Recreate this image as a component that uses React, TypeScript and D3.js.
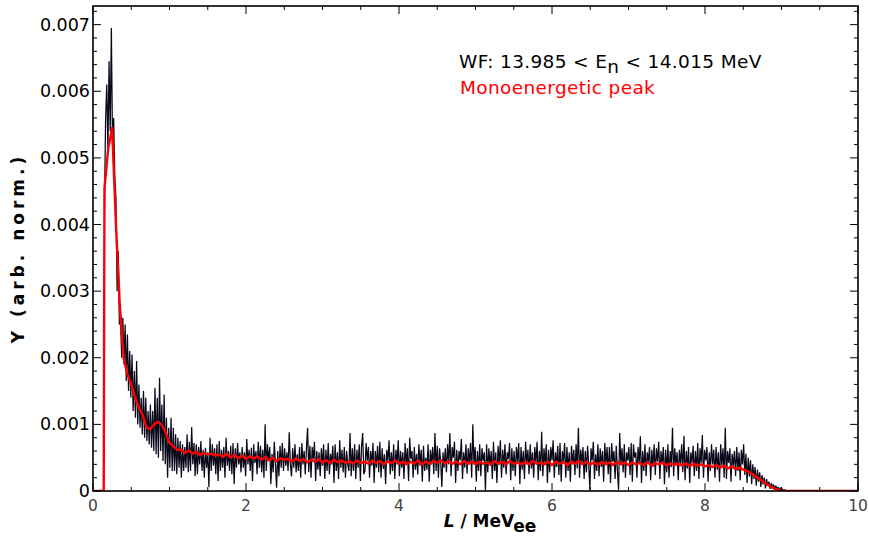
import React from "react";
import * as d3 from "d3";

// Black histogram (WF data), bins start at 0.15 MeVee, width 0.015; values in units of 1e-5
const blackStart = 0.15;
const blackStep = 0.015;
const blackValues = [
  430, 560, 610, 510, 645, 540, 695, 520, 560, 470, 440, 300, 360, 250, 255, 200, 260, 190, 250, 165, // 0.15
  235, 150, 210, 140, 205, 120, 180, 110, 195, 100, 160, 95, 140, 85, 150, 80, 140, 75, 120, 70, // 0.45
  130, 65, 120, 60, 155, 55, 140, 50, 170, 60, 130, 45, 145, 40, 110, 20, 95, 35, 110, 30, // 0.75
  95, 30, 85, 25, 80, 35, 75, 20, 70, 30, 66, 35, 85, 28, 74, 30, 96, 40, 72, 22, // 1.05
  70, 25, 66, 40, 75, 30, 62, 20, 65, 35, 58, 6, 80, 30, 70, 38, 64, 25, 70, 15, // 1.35
  75, 30, 62, 35, 66, 20, 80, 38, 60, 30, 68, 25, 72, 10, 64, 35, 72, 40, 58, 28, // 1.65
  66, 35, 58, 22, 78, 40, 62, 30, 65, 15, 70, 42, 60, 25, 74, 35, 68, 28, 62, 20, // 1.95
  100, 30, 70, 45, 66, 10, 56, 28, 74, 40, 5, 60, 22, 68, 35, 72, 30, 64, 38, 58, // 2.25
  30, 88, 40, 22, 64, 35, 70, 28, 55, 30, 66, 20, 72, 40, 60, 25, 64, 95, 28, 68, // 2.55
  20, 66, 48, 74, 15, 60, 32, 58, 22, 64, 38, 70, 18, 62, 30, 72, 25, 56, 40, 68, // 2.85
  12, 70, 30, 58, 18, 76, 35, 62, 28, 66, 20, 60, 40, 30, 87, 22, 64, 30, 70, 18, // 3.15
  62, 35, 70, 15, 66, 87, 25, 30, 72, 45, 66, 20, 60, 38, 72, 12, 60, 35, 68, 28, // 3.45
  74, 20, 64, 33, 55, 10, 62, 45, 76, 25, 58, 30, 70, 18, 62, 40, 76, 22, 60, 35, // 3.75
  58, 18, 72, 40, 64, 15, 80, 48, 60, 20, 66, 32, 56, 25, 70, 38, 62, 14, 68, 30, // 4.05
  50, 32, 70, 14, 62, 40, 66, 25, 87, 30, 68, 20, 64, 44, 6, 58, 35, 64, 28, 70, // 4.35
  40, 87, 22, 66, 50, 74, 12, 62, 30, 60, 46, 78, 18, 58, 35, 70, 26, 64, 40, 72, // 4.65
  20, 100, 40, 66, 14, 60, 30, 70, 22, 64, 45, 58, 0, 70, 28, 64, 38, 60, 18, 74, // 4.95
  30, 58, 12, 68, 40, 76, 20, 62, 35, 70, 25, 58, 48, 72, 16, 64, 30, 60, 22, 66, // 5.25
  44, 72, 10, 66, 32, 60, 18, 74, 40, 62, 25, 70, 34, 58, 20, 66, 42, 74, 16, 60, // 5.55
  30, 89, 22, 64, 40, 70, 12, 62, 28, 66, 46, 76, 20, 58, 36, 68, 24, 72, 14, 60, // 5.85
  44, 72, 20, 66, 30, 58, 14, 68, 40, 62, 24, 70, 34, 95, 20, 62, 42, 66, 18, 60, // 6.15
  28, 68, 40, 2, 64, 46, 74, 18, 55, 30, 70, 22, 64, 36, 60, 14, 72, 40, 66, 25, // 6.45
  66, 12, 72, 44, 60, 18, 68, 30, 2, 87, 40, 64, 28, 70, 20, 58, 46, 66, 24, 72, // 6.75
  14, 70, 50, 58, 20, 66, 42, 82, 12, 60, 30, 70, 22, 58, 44, 66, 16, 62, 36, 70, // 7.05
  24, 64, 44, 74, 18, 60, 40, 66, 10, 62, 28, 70, 20, 60, 36, 95, 22, 64, 40, 58, // 7.35
  16, 62, 40, 70, 28, 83, 16, 60, 34, 66, 12, 58, 42, 68, 22, 60, 30, 72, 18, 64, // 7.65
  42, 84, 20, 62, 46, 66, 14, 58, 30, 70, 40, 62, 20, 66, 32, 58, 14, 70, 38, 64, // 7.95
  20, 95, 18, 60, 42, 64, 14, 56, 38, 60, 22, 66, 30, 58, 16, 62, 40, 70, 24, 56, // 8.25
  12, 50, 22, 46, 10, 40, 18, 36, 8, 32, 14, 28, 6, 24, 10, 20, 4, 18, 8, 14, // 8.55
  3, 12, 5, 10, 2, 8, 3, 6, 1, 5, 2, 3, 0, 2, 0, 0, 0, 0, 0, 0, // 8.85
];

// Red "Monoenergetic peak" curve, points start at 0.15 MeVee, step 0.05; units of 1e-5
const redStart = 0.15;
const redStep = 0.05;
const redValues = [
  455, 515, 545, 400, 280, 200, 175, 160, 140, 125, // 0.15
  114, 95, 93, 100, 104, 99, 88, 72, 67, 62, // 0.65
  62, 57, 61, 56, 59, 54, 57, 55, 56, 53, // 1.15
  55, 51, 56, 50, 54, 49, 53, 48, 52, 49, // 1.65
  52, 47, 51, 46, 50, 45, 49, 47, 48, 44, // 2.15
  49, 45, 48, 43, 47, 44, 48, 43, 46, 42, // 2.65
  47, 43, 46, 42, 45, 41, 46, 42, 44, 41, // 3.15
  46, 42, 45, 40, 44, 42, 46, 41, 44, 40, // 3.65
  44, 41, 46, 40, 44, 41, 45, 42, 46, 41, // 4.15
  45, 41, 44, 40, 45, 41, 44, 40, 44, 41, // 4.65
  43, 40, 45, 41, 44, 40, 45, 41, 43, 40, // 5.15
  44, 40, 45, 41, 43, 40, 44, 39, 44, 41, // 5.65
  43, 39, 44, 41, 45, 40, 44, 40, 43, 39, // 6.15
  44, 40, 43, 39, 44, 40, 43, 39, 43, 40, // 6.65
  42, 39, 43, 38, 42, 40, 43, 38, 42, 39, // 7.15
  41, 38, 42, 37, 41, 38, 40, 37, 39, 36, // 7.65
  39, 35, 38, 34, 37, 33, 35, 32, 30, 27, // 8.15
  23, 19, 15, 11, 7, 4, 2, 1, 0, 0, // 8.65
];
const redZeroBeforeX = [0, 0.14];
const redZeroAfterX = [10];

const xTicks = [0, 2, 4, 6, 8, 10];
const xTickLabels = ["0", "2", "4", "6", "8", "10"];
const yTicks = [0, 100, 200, 300, 400, 500, 600, 700];
const yTickLabels = ["0", "0.001", "0.002", "0.003", "0.004", "0.005", "0.006", "0.007"];

const W = 869;
const H = 536;
const L = 93, R = 858, T = 6, B = 491;
const FONT = "'DejaVu Sans', Verdana, sans-serif";

export default function App() {
  const x = d3.scaleLinear().domain([0, 10]).range([L, R]);
  const y = d3.scaleLinear().domain([0, 728]).range([B, T]);
  const line = d3.line<[number, number]>().x((d) => x(d[0])).y((d) => y(d[1]));

  const blackPts: [number, number][] = blackValues.map((v, i) => [blackStart + i * blackStep, v]);
  const redPts: [number, number][] = [
    ...redZeroBeforeX.map((t) => [t, 0] as [number, number]),
    ...redValues.map((v, i) => [redStart + i * redStep, v] as [number, number]),
    ...redZeroAfterX.map((t) => [t, 0] as [number, number]),
  ];

  const xMinor = d3.range(0, 10.001, 0.5).filter((t) => !xTicks.includes(t));
  const yMinor = d3.range(0, 728, 20).filter((t) => !yTicks.includes(t));
  const major = 8, minor = 4;

  return (
    <svg width={W} height={H} style={{ position: "absolute", left: 0, top: 0, background: "#fff" }} fontFamily={FONT}>
      <defs>
        <clipPath id="plot">
          <rect x={L} y={T} width={R - L} height={B - T} />
        </clipPath>
      </defs>
      <g clipPath="url(#plot)">
        <path d={line(blackPts) || ""} fill="none" stroke="#08081a" strokeWidth={1.25} strokeLinejoin="bevel" />
        <path d={line(redPts) || ""} fill="none" stroke="#ff0000" strokeWidth={2.4} strokeLinejoin="round" />
      </g>
      {/* ticks */}
      <g stroke="#000" strokeWidth={1}>
        {xTicks.map((t) => (
          <g key={"xt" + t}>
            <line x1={x(t)} x2={x(t)} y1={B} y2={B - major} />
            <line x1={x(t)} x2={x(t)} y1={T} y2={T + major} />
          </g>
        ))}
        {xMinor.map((t) => (
          <g key={"xm" + t}>
            <line x1={x(t)} x2={x(t)} y1={B} y2={B - minor} />
            <line x1={x(t)} x2={x(t)} y1={T} y2={T + minor} />
          </g>
        ))}
        {yTicks.map((t) => (
          <g key={"yt" + t}>
            <line x1={L} x2={L + major} y1={y(t)} y2={y(t)} />
            <line x1={R} x2={R - major} y1={y(t)} y2={y(t)} />
          </g>
        ))}
        {yMinor.map((t) => (
          <g key={"ym" + t}>
            <line x1={L} x2={L + minor} y1={y(t)} y2={y(t)} />
            <line x1={R} x2={R - minor} y1={y(t)} y2={y(t)} />
          </g>
        ))}
      </g>
      <rect x={L} y={T} width={R - L} height={B - T} fill="none" stroke="#000" strokeWidth={1.6} />
      {/* tick labels */}
      {yTicks.map((t, i) => (
        <text key={"yl" + t} x={L - 3} y={y(t) + 6} textAnchor="end" fontSize={17.5} fill="#000">
          {yTickLabels[i]}
        </text>
      ))}
      {xTicks.map((t, i) => (
        <text key={"xl" + t} x={x(t)} y={B + 20} textAnchor="middle" fontSize={15.5} fill="#444">
          {xTickLabels[i]}
        </text>
      ))}
      {/* axis titles */}
      <text transform={`translate(24, 248) rotate(-90)`} textAnchor="middle" fontSize={17} fontWeight="bold" letterSpacing={4} fill="#000">
        Y (arb. norm.)
      </text>
      <text x={490} y={527} textAnchor="middle" fontSize={17} fontWeight="bold" fill="#000">
        <tspan fontStyle="italic">L</tspan>
        <tspan> / MeV</tspan>
        <tspan dy={5}>ee</tspan>
      </text>
      {/* annotation */}
      <text x={459} y={68} fontSize={18.5} letterSpacing={0.35} fill="#000">
        <tspan>{"WF: 13.985 < E"}</tspan>
        <tspan dy={5}>n</tspan>
        <tspan dy={-5}>{" < 14.015 MeV"}</tspan>
      </text>
      <text x={460} y={94} fontSize={18.5} letterSpacing={0.35} fill="#ff0000">
        Monoenergetic peak
      </text>
    </svg>
  );
}
